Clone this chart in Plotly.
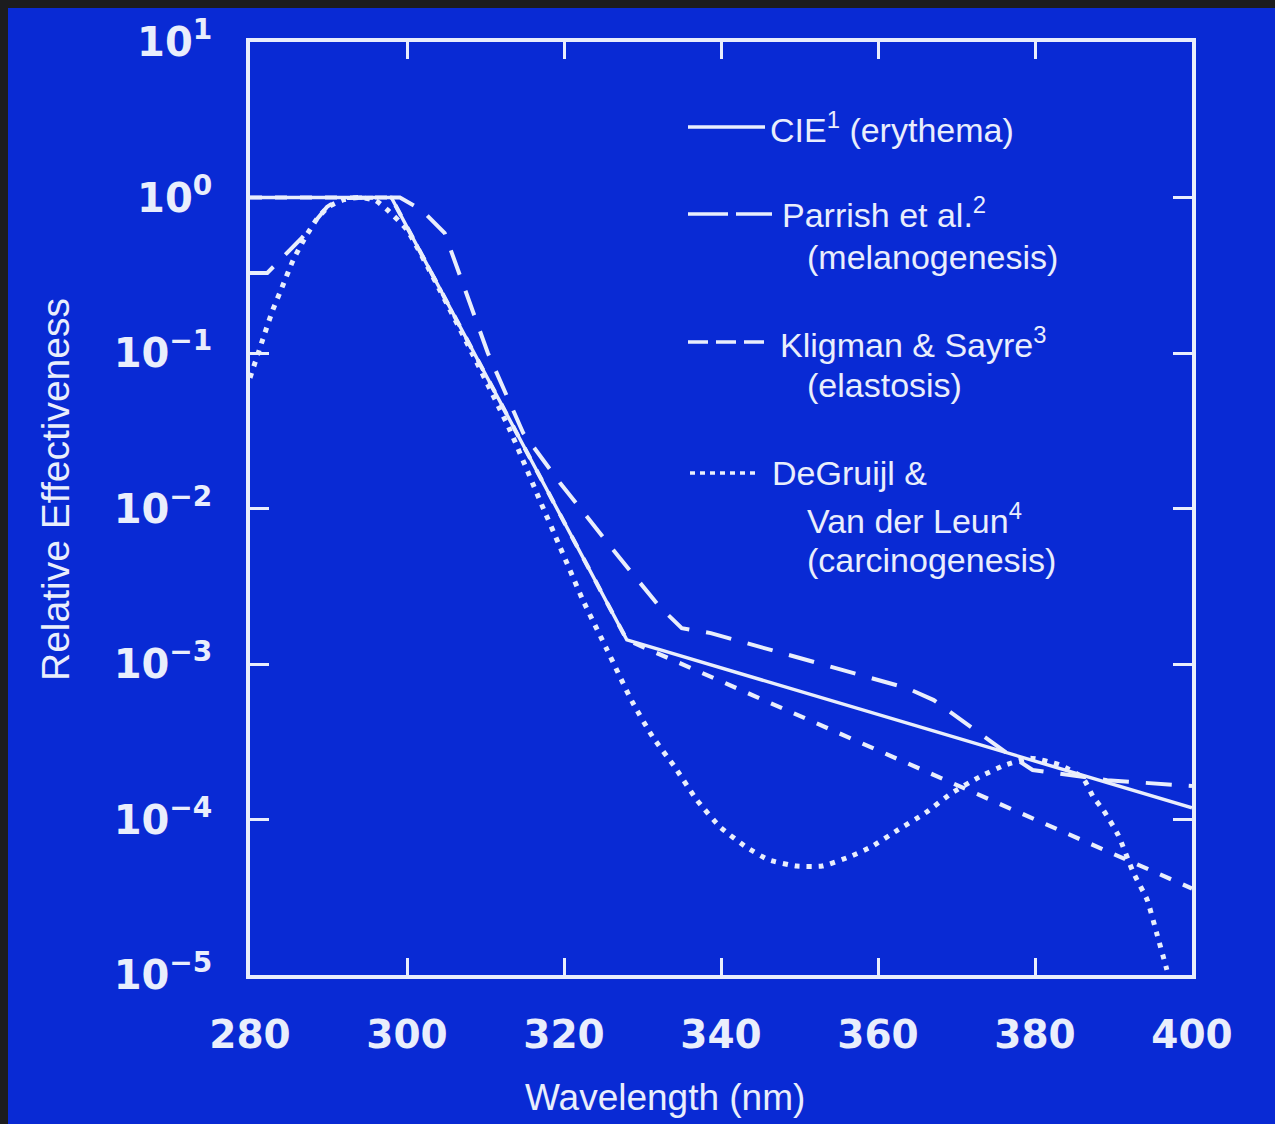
import plotly.graph_objects as go

# ---------------- data ----------------
cie_wl = [280, 298, 328, 400]
cie_val = [1.0, 1.0, 1.43e-3, 1.19e-4]

parrish_wl = [280, 282.2, 283.2, 286.6, 289.8, 291.5, 299.1, 301.9, 304.8, 310.3,
              314.8, 319.5, 327.1, 332.2, 335.0, 338.7, 363.7, 367.1, 376.4, 379.7,
              389.2, 400]
parrish_val = [0.327, 0.327, 0.368, 0.55, 0.87, 0.99, 1.0, 0.83, 0.59, 0.10,
               0.0306, 0.0146, 0.0048, 0.00233, 0.0017, 0.00158, 7.0e-4, 5.86e-4, 2.68e-4, 2.08e-4,
               1.79e-4, 1.64e-4]

kligman_wl = [280, 298, 328, 400]
kligman_val = [1.0, 1.0, 1.43e-3, 3.6e-5]

degruijl_wl = [280, 281.9, 282.9, 284.2, 285.5, 287.0, 288.5, 290.0, 292.0, 294.0,
               296.0, 297.5, 300.0, 306.8, 313.1, 316.9, 319.5, 322.4, 325.5, 328.7,
               331.3, 334.1, 336.9, 339.9, 343.2, 346.1, 349.6, 352.9, 356.3, 359.1,
               362.5, 366.0, 369.4, 372.9, 376.2, 379.4, 383.2, 386.1, 387.4, 388.7,
               390.6, 392.5, 394.3, 395.5, 396.8]
degruijl_val = [0.0692, 0.1346, 0.189, 0.2735, 0.396, 0.55, 0.724, 0.871, 0.97, 1.0,
                0.955, 0.832, 0.618, 0.1406, 0.032, 0.01135, 0.00565, 0.00258, 0.00123, 5.7e-4,
                3.4e-4, 2.18e-4, 1.34e-4, 8.95e-5, 6.65e-5, 5.5e-5, 5.02e-5, 5.02e-5, 5.74e-5, 6.65e-5,
                8.55e-5, 1.10e-4, 1.48e-4, 1.875e-4, 2.24e-4, 2.48e-4, 2.24e-4, 1.85e-4, 1.40e-4, 1.15e-4,
                7.94e-5, 4.59e-5, 3.03e-5, 1.86e-5, 1.08e-5]

x_ticks = [280, 300, 320, 340, 360, 380, 400]
x_ticktext = ["280", "300", "320", "340", "360", "380", "400"]
y_ticks = [1e-5, 1e-4, 1e-3, 1e-2, 1e-1, 1e0, 1e1]
y_ticktext = ["10<sup>−5</sup>", "10<sup>−4</sup>", "10<sup>−3</sup>", "10<sup>−2</sup>",
              "10<sup>−1</sup>", "10<sup>0</sup>", "10<sup>1</sup>"]

legend_lines = [
    ("solid", ["CIE<sup>1</sup> (erythema)"]),
    ("longdash", ["Parrish et al.<sup>2</sup>", "(melanogenesis)"]),
    ("dash", ["Kligman & Sayre<sup>3</sup>", "(elastosis)"]),
    ("dot", ["DeGruijl &", "Van der Leun<sup>4</sup>", "(carcinogenesis)"]),
]

# ---------------- style ----------------
W, H = 1275, 1124
L, R, T, B = 250, 1192, 42, 975
BLUE = "rgb(9,42,212)"
DARK = "#1c1c1e"
INK = "#e9eefc"


def px(x):
    return (x - L) / (R - L)


def py(y):
    return (B - y) / (B - T)


fig = go.Figure()

line_w = 3.4
fig.add_trace(go.Scatter(x=cie_wl, y=cie_val, mode="lines",
                         line=dict(color=INK, width=line_w), name="CIE"))
fig.add_trace(go.Scatter(x=parrish_wl, y=parrish_val, mode="lines",
                         line=dict(color=INK, width=line_w + 0.6, dash="26px,17px"), name="Parrish"))
fig.add_trace(go.Scatter(x=kligman_wl, y=kligman_val, mode="lines",
                         line=dict(color=INK, width=line_w + 0.8, dash="12px,13px"), name="Kligman"))
fig.add_trace(go.Scatter(x=degruijl_wl, y=degruijl_val, mode="lines",
                         line=dict(color=INK, width=5, dash="5px,7px", shape="spline", smoothing=0.5),
                         name="DeGruijl"))

shapes = [
    dict(type="rect", xref="paper", yref="paper", x0=px(8), x1=px(W), y0=py(H), y1=py(8),
         fillcolor=BLUE, line=dict(width=0), layer="below"),
]

annotations = []
samples = [
    ("solid", 688, 765, 127, [(768, 127)]),
    ("40px,8px", 688, 772, 214, [(780, 212), (805, 257)]),
    ("20px,8px", 688, 767, 342, [(778, 342), (805, 385)]),
    ("5px,5px", 690, 757, 473, [(770, 473), (805, 518), (805, 560)]),
]
for (dash, x0, x1, yy, pos), (_, texts) in zip(samples, legend_lines):
    shapes.append(dict(type="line", xref="paper", yref="paper", x0=px(x0), x1=px(x1),
                       y0=py(yy), y1=py(yy), line=dict(color=INK, width=3.5, dash=dash)))
    for (tx, ty), t in zip(pos, texts):
        annotations.append(dict(xref="paper", yref="paper", x=px(tx), y=py(ty), text=t,
                                showarrow=False, xanchor="left", yanchor="middle",
                                font=dict(family="Liberation Sans, Arial", size=34, color=INK)))

# axis titles
annotations.append(dict(xref="paper", yref="paper", x=px(665), y=py(1097), text="Wavelength (nm)",
                        showarrow=False, xanchor="center", yanchor="middle",
                        font=dict(family="Liberation Sans, Arial", size=37, color=INK)))
annotations.append(dict(xref="paper", yref="paper", x=px(55), y=py(490), text="Relative Effectiveness",
                        showarrow=False, xanchor="center", yanchor="middle", textangle=-90,
                        font=dict(family="Liberation Sans, Arial", size=39, color=INK)))

fig.update_layout(
    width=W, height=H,
    margin=dict(l=L, r=W - R, t=T, b=H - B, pad=0),
    paper_bgcolor=DARK,
    plot_bgcolor=BLUE,
    showlegend=False,
    shapes=shapes,
    annotations=annotations,
)

fig.update_xaxes(range=[280, 400], tickvals=x_ticks, ticktext=x_ticktext,
                 showline=True, linewidth=3.5, linecolor=INK, mirror="allticks",
                 ticks="inside", ticklen=17, tickwidth=3, tickcolor=INK,
                 showgrid=False, zeroline=False, ticklabelstandoff=22,
                 tickfont=dict(family="DejaVu Sans", size=39, color=INK, weight="bold"))
fig.update_yaxes(type="log", range=[-5, 1], tickvals=y_ticks, ticktext=y_ticktext,
                 showline=True, linewidth=3.5, linecolor=INK, mirror="allticks",
                 ticks="inside", ticklen=19, tickwidth=3, tickcolor=INK,
                 showgrid=False, zeroline=False, ticklabelstandoff=26,
                 tickfont=dict(family="DejaVu Sans", size=40, color=INK, weight="bold"))

fig.write_html("out.html")
